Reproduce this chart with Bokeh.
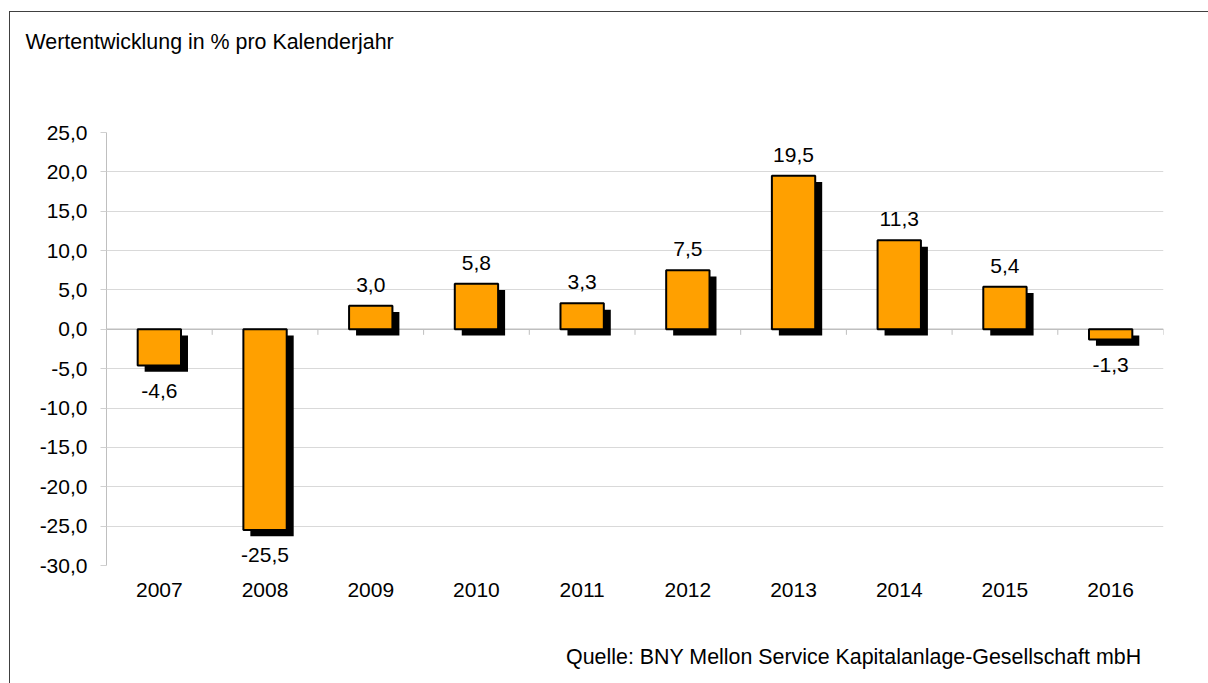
from bokeh.plotting import figure
from bokeh.models import (ColumnDataSource, Range1d, FixedTicker, Span, Title,
                          InlineStyleSheet)
from bokeh.transform import dodge
from bokeh.core.properties import value
from bokeh.embed import file_html
from bokeh.resources import INLINE

years = ["2007", "2008", "2009", "2010", "2011", "2012", "2013", "2014", "2015", "2016"]
returns = [-4.6, -25.5, 3.0, 5.8, 3.3, 7.5, 19.5, 11.3, 5.4, -1.3]
y_ticks = [-30, -25, -20, -15, -10, -5, 0, 5, 10, 15, 20, 25]
title_text = "Wertentwicklung in % pro Kalenderjahr"
source_text = "Quelle: BNY Mellon Service Kapitalanlage-Gesellschaft mbH"

FONT = "Liberation Sans"
FS = "21px"
FS_NOTE = "21.4px"
W, H = 1208, 683

def de(v):
    return f"{v:.1f}".replace(".", ",")

xs = list(range(len(years)))
src = ColumnDataSource(dict(
    x=xs,
    top=returns,
    label=[de(v) for v in returns],
    yoff=[-21 if v >= 0 else 25 for v in returns],
))

frame_css = InlineStyleSheet(css="""
:host::after {
  content: '';
  position: absolute;
  left: 9px; top: 11px; right: 0; bottom: 0;
  border-top: 1.5px solid #404040;
  border-left: 1.5px solid #404040;
  pointer-events: none;
}
""")

p = figure(width=W, height=H, output_backend="svg", toolbar_location=None,
           x_range=Range1d(-0.5, len(years) - 0.5), y_range=Range1d(-30, 25),
           min_border_left=106, min_border_right=45, min_border_top=132,
           min_border_bottom=118, title=None)
p.outline_line_color = None
p.background_fill_color = "white"
p.border_fill_color = "white"
p.stylesheets = [frame_css]

# axes
p.xaxis.ticker = FixedTicker(ticks=xs)
p.xaxis.major_label_overrides = {i: y for i, y in enumerate(years)}
p.xaxis.axis_line_color = None
p.xaxis.major_tick_line_color = None
p.xaxis.minor_tick_line_color = None
p.xaxis.major_label_standoff = 11
p.xaxis.major_label_text_font = FONT
p.xaxis.major_label_text_font_size = FS
p.xaxis.major_label_text_color = "black"

p.yaxis.ticker = FixedTicker(ticks=y_ticks)
p.yaxis.major_label_overrides = {t: de(t) for t in y_ticks}
p.yaxis.axis_line_color = "#bfbfbf"
p.yaxis.major_tick_line_color = "#d0d0d0"
p.yaxis.major_tick_in = 0
p.yaxis.major_tick_out = 6
p.yaxis.minor_tick_line_color = None
p.yaxis.major_label_standoff = 13
p.yaxis.major_label_text_font = FONT
p.yaxis.major_label_text_font_size = FS
p.yaxis.major_label_text_color = "black"

p.xgrid.grid_line_color = None
p.ygrid.grid_line_color = "#d9d9d9"

# zero (category) axis line with ticks at category boundaries
p.add_layout(Span(location=0, dimension="width", line_color="#bfbfbf",
                  line_width=1.5, level="underlay"))
bounds = [i - 0.5 for i in range(len(years) + 1)]
p.segment(x0=bounds, y0=[0] * len(bounds), x1=bounds, y1=[-0.7] * len(bounds),
          line_color="#bfbfbf", line_width=1)

# shadows and bars
bw = 0.41
p.vbar(x=dodge("x", 0.066), top=dodge("top", -0.8), bottom=-0.8, width=bw,
       source=src, fill_color="black", line_color=None)
p.vbar(x="x", top="top", bottom=0, width=bw, source=src,
       fill_color="#FFA000", line_color="black", line_width=2)

# value labels
p.text(x="x", y="top", text="label", y_offset="yoff", source=src,
       text_align="center", text_baseline="middle",
       text_font=value(FONT), text_font_size=FS, text_color="black")

# title (with spacer between it and the frame)
p.add_layout(Title(text=" ", standoff=75, text_font_size="1px"), "above")
p.add_layout(Title(text=title_text, align="left", offset=-81, standoff=2,
                   text_font=FONT, text_font_size=FS_NOTE, text_font_style="normal",
                   text_color="black"), "above")
# source note (with spacer below the axis)
p.add_layout(Title(text=" ", standoff=39, text_font_size="1px"), "below")
p.add_layout(Title(text=source_text, align="right", offset=22, standoff=2,
                   text_font=FONT, text_font_size=FS_NOTE, text_font_style="normal",
                   text_color="black"), "below")

open("out.html", "w").write(file_html(p, INLINE))
